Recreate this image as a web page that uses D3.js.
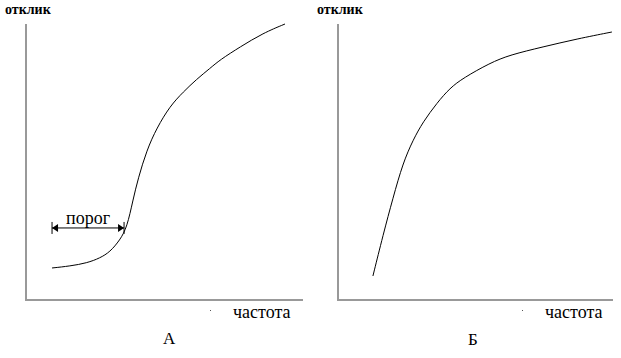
<!DOCTYPE html>
<html>
<head>
<meta charset="utf-8">
<script src="https://cdn.jsdelivr.net/npm/d3@7"></script>
<style>
  body { margin: 0; background: #fff; }
  svg { display: block; }
</style>
</head>
<body>
<svg width="621" height="358"></svg>
<script>
// curve A: threshold response (frequency, response), 0..100 units
const curveAx = [9.4, 15.9, 22.0, 26.7, 30.3, 33.9, 36.5, 38.6, 40.5, 43.6, 47.2, 52.0, 56.8, 61.6, 66.4, 70.0, 77.3, 85.6, 93.5];
const curveAy = [11.6, 12.3, 13.4, 15.2, 17.4, 21.7, 26.4, 36.2, 44.1, 54.3, 62.3, 70.3, 75.4, 80.0, 83.9, 87.0, 91.7, 96.7, 100];

// curve B: saturating response
const curveBx = [12.7, 16.4, 20.0, 23.6, 27.3, 30.9, 36.0, 40.7, 45.5, 55.3, 62.5, 74.5, 86.9, 99.6];
const curveBy = [8.7, 23.6, 37.0, 49.6, 58.0, 64.5, 71.4, 76.8, 80.4, 85.9, 88.8, 91.7, 94.6, 97.1];

// threshold span on panel A
const porog = [9.4, 35.4];
const porogLevel = 26.1;

const panelNames = ['А', 'Б'];

const font = '"Liberation Serif", "DejaVu Serif", "Times New Roman", serif';

const svg = d3.select('svg');

const panels = [
    { left: 26, right: 303, xs: curveAx, ys: curveAy, label: panelNames[0], labelX: 163, labelY: 344 },
    { left: 338, right: 613, xs: curveBx, ys: curveBy, label: panelNames[1], labelX: 468, labelY: 345 }
];
const plotTop = 24, plotBottom = 300;

panels.forEach((p, i) => {
    const x = d3.scaleLinear().domain([0, 100]).range([p.left, p.right]);
    const y = d3.scaleLinear().domain([0, 100]).range([plotBottom, plotTop]);
    const g = svg.append('g')
        .attr('font-family', font);

    // axes: plain gray L shape
    g.append('path')
        .attr('d', `M${x(0)},${y(100)}V${y(0)}H${x(100)}`)
        .attr('fill', 'none')
        .attr('stroke', '#999')
        .attr('stroke-width', 2);

    const pts = p.xs.map((v, k) => [v, p.ys[k]]);
    const line = d3.line()
        .x(d => x(d[0]))
        .y(d => y(d[1]))
        .curve(d3.curveBasis);

    g.append('path')
        .attr('d', line(pts))
        .attr('fill', 'none')
        .attr('stroke', '#000')
        .attr('stroke-width', 1);

    g.append('text')
        .attr('x', x(0) - 21)
        .attr('y', 14)
        .attr('font-size', 14)
        .attr('font-weight', 'bold')
        .text('отклик');

    g.append('text')
        .attr('x', x(0) + 207)
        .attr('y', 318)
        .attr('font-size', 18)
        .text('частота');

    g.append('rect')
        .attr('x', x(0) + 184)
        .attr('y', 310)
        .attr('width', 1)
        .attr('height', 1)
        .attr('fill', '#555');

    g.append('text')
        .attr('x', p.labelX)
        .attr('y', p.labelY)
        .attr('font-size', 17)
        .text(p.label);

    if (i === 0) {
        const ay = y(porogLevel);
        const x1 = x(porog[0]), x2 = x(porog[1]);
        g.append('line')
            .attr('x1', x1).attr('x2', x2)
            .attr('y1', ay).attr('y2', ay)
            .attr('stroke', '#000');
        [x1, x2].forEach(xx => {
            g.append('line')
                .attr('x1', xx).attr('x2', xx)
                .attr('y1', ay - 6).attr('y2', ay + 6)
                .attr('stroke', '#000');
        });
        g.append('path')
            .attr('d', `M${x1},${ay}l6,-4v8z M${x2},${ay}l-6,-4v8z`)
            .attr('fill', '#000');
        g.append('text')
            .attr('x', (x1 + x2) / 2)
            .attr('y', ay - 4)
            .attr('text-anchor', 'middle')
            .attr('font-size', 18)
            .text('порог');
    }
});
</script>
</body>
</html>
